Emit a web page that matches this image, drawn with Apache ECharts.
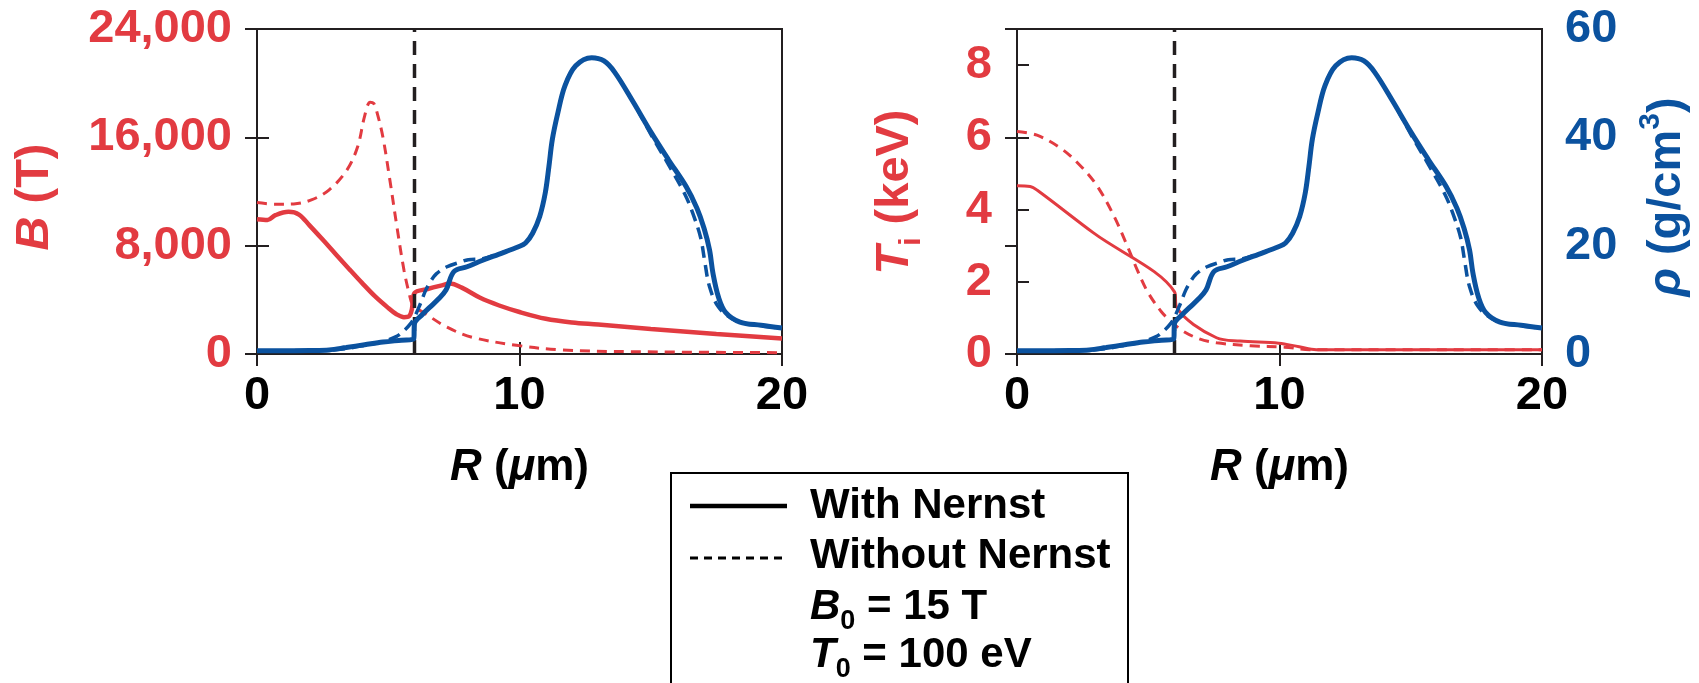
<!DOCTYPE html>
<html>
<head>
<meta charset="utf-8">
<script src="https://cdn.jsdelivr.net/npm/echarts@6/dist/echarts.min.js"></script>
<style>
html, body { margin: 0; padding: 0; background: #fff; }
#main { width: 1699px; height: 683px; }
</style>
</head>
<body>
<div id="main"></div>
<script>
// radius (um) and profiles
const shellR = 6;  // dashed vertical marker

const rB = [0, 0.4, 0.7, 1.2, 1.6, 2.0, 2.5, 3.0, 3.5, 4.0, 4.5, 5.0, 5.3, 5.6, 5.8, 5.9, 6.0, 6.5, 7.0, 7.35, 7.8, 8.5, 9.2, 10.0, 11.0, 12.0, 13.0, 15.0, 17.5, 20];
const bWith = [9950, 9900, 10250, 10500, 10300, 9500, 8450, 7370, 6300, 5250, 4250, 3400, 2950, 2720, 2800, 3300, 4500, 4800, 5050, 5200, 4900, 4150, 3600, 3100, 2600, 2330, 2180, 1850, 1480, 1150];

const rB0 = [0, 0.7, 1.4, 2.07, 2.75, 3.43, 3.84, 4.1, 4.31, 4.45, 4.55, 4.79, 5.06, 5.33, 5.6, 5.8, 5.95, 6.42, 7.24, 8.19, 9.96, 11.6, 14.3, 20];
const bWithout = [11180, 11060, 11080, 11380, 12120, 13600, 15340, 17570, 18600, 18500, 18000, 16080, 12870, 9400, 6190, 4450, 3590, 2970, 1980, 1240, 620, 300, 170, 100];

const rRho = [0, 1, 2, 2.75, 3.4, 4.1, 4.8, 5.5, 5.97, 6.0, 6.3, 6.6, 6.9, 7.2, 7.5, 8.0, 8.6, 9.2, 9.96, 10.23, 10.5, 10.77, 10.98, 11.12, 11.25, 11.46, 11.73, 12.14, 12.75, 13.22, 13.63, 14.31, 14.99, 15.67, 16.35, 16.76, 17.03, 17.24, 17.37, 17.58, 17.85, 18.4, 19.2, 20];
const rhoWith = [0.6, 0.6, 0.65, 0.75, 1.2, 1.7, 2.2, 2.55, 2.8, 5.6, 7.3, 8.7, 10.1, 11.8, 15.2, 16.1, 17.3, 18.4, 19.8, 20.5, 22.3, 25.4, 29.7, 34.6, 39.6, 44.5, 49.5, 53.2, 54.7, 54.1, 52.0, 46.7, 41.1, 35.9, 30.9, 26.9, 23.2, 19.2, 14.9, 10.5, 7.7, 5.9, 5.3, 4.8];

const rRho0 = [0, 2.75, 3.4, 4.1, 4.8, 5.3, 5.6, 5.85, 6.0, 6.2, 6.42, 6.6, 6.83, 7.24, 7.7, 8.05, 8.6, 9.2, 9.96, 10.23, 10.5, 10.77, 10.98, 11.12, 11.25, 11.46, 11.73, 12.14, 12.75, 13.22, 13.63, 14.31, 15.0, 15.67, 16.3, 16.6, 16.9, 17.05, 17.24, 17.58, 18.1, 18.6, 19.07, 20];
const rhoWithout = [0.6, 0.7, 1.0, 1.6, 2.3, 3.2, 4.3, 5.6, 6.8, 9.0, 11.7, 13.3, 14.8, 16.1, 16.9, 17.4, 17.6, 18.5, 19.8, 20.5, 22.3, 25.4, 29.7, 34.6, 39.6, 44.5, 49.5, 53.2, 54.7, 54.1, 52.0, 46.7, 40.6, 35.0, 29.5, 26.0, 21.5, 17.3, 12.4, 8.66, 6.5, 5.7, 5.26, 4.8];

const rT = [0, 0.5, 0.8, 2.9, 6.0, 6.08, 7.6, 8.5, 9.97, 10.75, 11.4, 20];
const tWith = [4.66, 4.64, 4.52, 3.36, 1.72, 1.3, 0.45, 0.36, 0.3, 0.2, 0.12, 0.12];

const rT0 = [0, 0.76, 1.68, 2.34, 3.0, 3.66, 4.18, 4.58, 4.97, 5.5, 5.89, 6.29, 6.94, 7.6, 8.9, 10.2, 11.15, 20];
const tWithout = [6.16, 6.06, 5.69, 5.27, 4.71, 3.87, 3.03, 2.33, 1.73, 1.17, 0.89, 0.65, 0.42, 0.31, 0.23, 0.19, 0.12, 0.12];

const RED = '#e23b41';
const BLUE = '#0b529f';
const INK = '#231f20';
const FONT = 'Liberation Sans, Arial, sans-serif';

function zip(xs, ys) { return xs.map((x, i) => [x, ys[i]]); }

// titles with italic / sub / sup pieces, laid out piece by piece
const measureCtx = document.createElement('canvas').getContext('2d');
function textWidth(str, size, italic) {
  measureCtx.font = (italic ? 'italic ' : '') + 'bold ' + size + 'px ' + FONT;
  return measureCtx.measureText(str).width;
}
function title(parts, size, color, cx, cy, rotated, fromLeft) {
  const items = parts.map(([t, kind]) => {
    const small = kind === 'sub' || kind === 'sup';
    const fs = small ? Math.round(size * 0.64) : size;
    const italic = kind === 'i';
    let base = 0.358 * size;              // baseline, measured from cap centre
    if (kind === 'sub') base += size * 0.22;
    if (kind === 'sup') base -= size * 0.48;
    return { t, fs, italic, w: textWidth(t, fs, italic), y: base - 0.3465 * fs };
  });
  const total = items.reduce((s, it) => s + it.w, 0);
  let x = fromLeft ? 0 : -total / 2;
  const children = items.map(it => {
    const el = {
      type: 'text', x: x, y: it.y,
      style: { text: it.t, fontSize: it.fs, fontWeight: 'bold', fontStyle: it.italic ? 'italic' : 'normal',
        fontFamily: FONT, fill: color, align: 'left', verticalAlign: 'middle' }
    };
    x += it.w;
    return el;
  });
  return { type: 'group', x: cx, y: cy, rotation: rotated ? Math.PI / 2 : 0, children: children };
}

var myChart = echarts.init(document.getElementById('main'));

const tickStyle = { show: true, inside: true, length: 12, lineStyle: { color: INK, width: 2 } };
const nameRich = {
  n: { fontFamily: FONT, fontWeight: 'bold', fontSize: 44, color: '#000' },
  i: { fontFamily: FONT, fontWeight: 'bold', fontSize: 44, fontStyle: 'italic', color: '#000' }
};

function xAxes(gridIndex) {
  return [{
    type: 'value', gridIndex: gridIndex, position: 'bottom', min: 0, max: 20, interval: 10,
    axisLine: { show: false }, axisTick: tickStyle, splitLine: { show: false },
    axisLabel: { color: '#000', fontSize: 47, fontWeight: 'bold', fontFamily: FONT, margin: 19 },
    name: '{i|R}{n| (}{i|μ}{n|m)}', nameLocation: 'middle', nameGap: 92,
    nameTextStyle: { rich: nameRich }
  }, {
    type: 'value', gridIndex: gridIndex, position: 'top', min: 0, max: 20, interval: 10,
    axisLine: { show: false }, axisTick: tickStyle, splitLine: { show: false },
    axisLabel: { show: false }
  }];
}

function line(xi, yi, data, color, width, dash) {
  return {
    type: 'line', xAxisIndex: xi, yAxisIndex: yi, data: data, showSymbol: false,
    smooth: 0.35,
    lineStyle: { color: color, width: width, type: dash || 'solid' }
  };
}
function marker(xi, yi, top) {
  return {
    type: 'line', xAxisIndex: xi, yAxisIndex: yi, data: [[shellR, 0], [shellR, top]], showSymbol: false,
    lineStyle: { color: INK, width: 3.5, type: [14, 9] }
  };
}

const option = {
  animation: false,
  backgroundColor: '#fff',
  grid: [
    { left: 257, top: 29, width: 525, height: 325, show: true, borderColor: INK, borderWidth: 2, containLabel: false, outerBoundsMode: 'none' },
    { left: 1017, top: 29, width: 525, height: 325, show: true, borderColor: INK, borderWidth: 2, containLabel: false, outerBoundsMode: 'none' }
  ],
  xAxis: xAxes(0).concat(xAxes(1)),
  yAxis: [
    {
      type: 'value', gridIndex: 0, position: 'left', min: 0, max: 24000, interval: 8000,
      axisLine: { show: false }, axisTick: tickStyle, splitLine: { show: false },
      axisLabel: { color: RED, fontSize: 47, fontWeight: 'bold', fontFamily: FONT, margin: 25,
        formatter: v => v.toLocaleString('en-US') }
    },
    {
      type: 'value', gridIndex: 0, position: 'right', min: 0, max: 60, interval: 20,
      axisLine: { show: false }, axisTick: tickStyle, splitLine: { show: false },
      axisLabel: { show: false }
    },
    {
      type: 'value', gridIndex: 1, position: 'left', min: 0, max: 9, interval: 2,
      axisLine: { show: false }, axisTick: tickStyle, splitLine: { show: false },
      axisLabel: { color: RED, fontSize: 47, fontWeight: 'bold', fontFamily: FONT, margin: 25,
        formatter: v => (v === 9 ? '' : String(v)) }
    },
    {
      type: 'value', gridIndex: 1, position: 'right', min: 0, max: 60, interval: 20,
      axisLine: { show: false }, axisTick: tickStyle, splitLine: { show: false },
      axisLabel: { color: BLUE, fontSize: 47, fontWeight: 'bold', fontFamily: FONT, margin: 23 }
    }
  ],
  series: [
    // left panel: magnetic field (left axis) and density (right axis)
    line(0, 0, zip(rB0, bWithout), RED, 3, [10, 7]),
    line(0, 0, zip(rB, bWith), RED, 4.5),
    marker(0, 0, 24000),
    line(0, 1, zip(rRho0, rhoWithout), BLUE, 3.5, [12, 7]),
    line(0, 1, zip(rRho, rhoWith), BLUE, 5),
    // right panel: ion temperature (left axis) and density (right axis)
    line(2, 2, zip(rT0, tWithout), RED, 3, [10, 7]),
    line(2, 2, zip(rT, tWith), RED, 3),
    marker(2, 2, 9),
    line(2, 3, zip(rRho0, rhoWithout), BLUE, 3.5, [12, 7]),
    line(2, 3, zip(rRho, rhoWith), BLUE, 5)
  ],
  graphic: [
    title([['B', 'i'], [' (T)', 'n']], 47, RED, 35, 197, true),
    title([['T', 'i'], ['i', 'sub'], [' (keV)', 'n']], 47, RED, 895, 192, true),
    title([['ρ', 'i'], [' (g/cm', 'n'], ['3', 'sup'], [')', 'n']], 47, BLUE, 1667, 197, true),
    { type: 'rect', shape: { x: 671, y: 473, width: 457, height: 240 },
      style: { fill: '#fff', stroke: '#000', lineWidth: 2 } },
    { type: 'line', shape: { x1: 690, y1: 506, x2: 787, y2: 506 },
      style: { stroke: '#000', lineWidth: 4.5 } },
    { type: 'line', shape: { x1: 690, y1: 558, x2: 787, y2: 558 },
      style: { stroke: '#000', lineWidth: 3, lineDash: [8, 6] } },
    title([['With Nernst', 'n']], 42, '#000', 810, 506, false, true),
    title([['Without Nernst', 'n']], 42, '#000', 810, 556, false, true),
    title([['B', 'i'], ['0', 'sub'], [' = 15 T', 'n']], 42, '#000', 810, 607, false, true),
    title([['T', 'i'], ['0', 'sub'], [' = 100 eV', 'n']], 42, '#000', 810, 655, false, true)
  ]
};

myChart.setOption(option);
</script>
</body>
</html>
